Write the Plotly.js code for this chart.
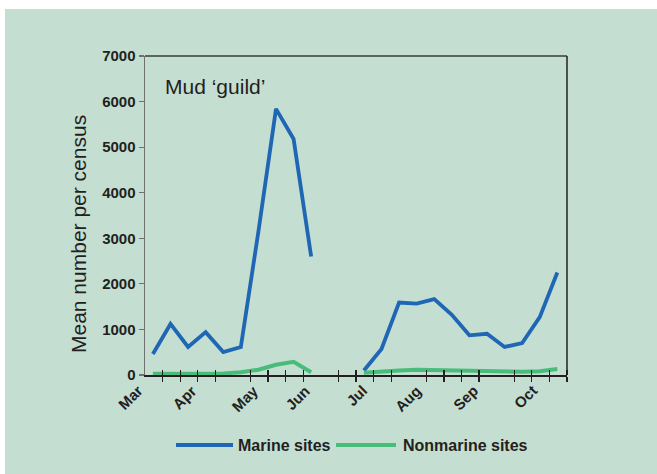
<!DOCTYPE html>
<html>
<head>
<meta charset="utf-8">
<script src="https://cdn.plot.ly/plotly-3.0.1.min.js"></script>
<style>
  html, body { margin: 0; padding: 0; background: #ffffff; }
  #chart { position: absolute; left: 5px; top: 9px; width: 652px; height: 465px; }
</style>
</head>
<body>
<div id="chart"></div>
<script>
// ---- Data (24 ten-day census periods, March to October) ----
const periods = ["Mar-1","Mar-2","Mar-3","Apr-1","Apr-2","Apr-3","May-1","May-2","May-3",
                 "Jun-1","Jun-2","Jun-3","Jul-1","Jul-2","Jul-3","Aug-1","Aug-2","Aug-3",
                 "Sep-1","Sep-2","Sep-3","Oct-1","Oct-2","Oct-3"];
const marineSites    = [460, 1120, 615, 940, 505, 615, 3150, 5840, 5180, 2600, null, null,
                        100, 570, 1590, 1565, 1665, 1320, 870, 905, 615, 700, 1270, 2250];
const nonmarineSites = [30, 30, 30, 30, 35, 60, 115, 225, 290, 60, null, null,
                        50, 85, 100, 115, 105, 95, 85, 75, 60, 70, 85, 130];
const monthLabels = ["Mar","Apr","May","Jun","Jul","Aug","Sep","Oct"];
const monthLabelPos = [0.2, 3.25, 6.79, 9.73, 12.99, 16.04, 19.31, 22.66];
const yTicks = [0, 1000, 2000, 3000, 4000, 5000, 6000, 7000];

// ---- Styling ----
const BG = "#c4ded1", BLUE = "#1f66b5", GREEN = "#48bd7b", INK = "#231f20";
const FONT = "Liberation Sans, Arial, sans-serif";
const W = 652, H = 465, ML = 140, MR = 90, MT = 47, MB = 99;
const PW = W - ML - MR, PH = H - MT - MB;
const XMAX = 24;
// page pixel -> paper coords (div is offset 5,9 in page)
const px = x => (x - 5 - ML) / PW;
const py = y => 1 - (y - 9 - MT) / PH;

const xs = periods.map((p, i) => i + 0.45);

const traces = [
  { x: xs, y: marineSites, name: "Marine sites", type: "scatter", mode: "lines",
    line: { color: BLUE, width: 3.8 }, connectgaps: false, hoverinfo: "x+y" },
  { x: xs, y: nonmarineSites, name: "Nonmarine sites", type: "scatter", mode: "lines",
    line: { color: GREEN, width: 4 }, connectgaps: false, hoverinfo: "x+y" },
  { x: [], y: [], xaxis: "x2", yaxis: "y", showlegend: false, hoverinfo: "skip", type: "scatter" }
];

const monthAnnotations = monthLabels.map((m, i) => ({
  text: m, xref: "paper", yref: "paper", x: monthLabelPos[i] / XMAX, y: py(379),
  xanchor: "right", yanchor: "top", textangle: -45, showarrow: false,
  font: { family: FONT, size: 15, color: INK, weight: "bold" }
}));

const layout = {
  width: W, height: H,
  margin: { l: ML, r: MR, t: MT, b: MB, pad: 0 },
  paper_bgcolor: BG, plot_bgcolor: BG,
  showlegend: false,
  font: { family: FONT, color: INK },
  xaxis: {
    range: [0, XMAX], showgrid: false, zeroline: false,
    showline: true, linecolor: INK, linewidth: 1.5,
    showticklabels: false, ticks: "",
    minor: { tick0: 0, dtick: 1, ticks: "outside", ticklen: 5, tickwidth: 1.2, tickcolor: INK, showgrid: false }
  },
  xaxis2: {
    overlaying: "x", anchor: "y", range: [0, XMAX], showgrid: false, zeroline: false,
    showline: false, showticklabels: false, ticks: "",
    minor: { tick0: 0, dtick: 1, ticks: "inside", ticklen: 5, tickwidth: 1.2, tickcolor: INK, showgrid: false }
  },
  yaxis: {
    range: [0, 7000], showgrid: false, zeroline: false,
    showline: true, linecolor: "#707070", linewidth: 1.5,
    tickmode: "array", tickvals: yTicks,
    ticks: "outside", ticklen: 5, tickwidth: 1.2, tickcolor: "#707070",
    tickfont: { family: FONT, size: 15, color: INK, weight: "bold" }
  },
  shapes: [
    { type: "line", xref: "paper", yref: "paper", x0: 0, x1: 1, y0: 1, y1: 1,
      line: { color: "#3a3a3a", width: 1.5 } },
    { type: "line", xref: "paper", yref: "paper", x0: 1, x1: 1, y0: 0, y1: 1,
      line: { color: INK, width: 1.5 } },
    // custom legend swatches
    { type: "line", xref: "paper", yref: "paper", x0: px(176), x1: px(233), y0: py(445), y1: py(445),
      line: { color: BLUE, width: 4 } },
    { type: "line", xref: "paper", yref: "paper", x0: px(336), x1: px(396), y0: py(445), y1: py(445),
      line: { color: GREEN, width: 4 } }
  ],
  annotations: [
    { text: "Mud \u2018guild\u2019", xref: "paper", yref: "paper", x: px(163), y: py(86),
      xanchor: "left", yanchor: "middle", showarrow: false,
      font: { family: FONT, size: 21, color: INK } },
    { text: "Mean number per census", xref: "paper", yref: "paper", x: px(78), y: py(234),
      xanchor: "center", yanchor: "middle", textangle: -90, showarrow: false,
      font: { family: FONT, size: 21, color: INK } },
    { text: "Marine sites", xref: "paper", yref: "paper", x: px(236), y: py(445),
      xanchor: "left", yanchor: "middle", showarrow: false,
      font: { family: FONT, size: 16, color: INK, weight: "bold" } },
    { text: "Nonmarine sites", xref: "paper", yref: "paper", x: px(401), y: py(445),
      xanchor: "left", yanchor: "middle", showarrow: false,
      font: { family: FONT, size: 16, color: INK, weight: "bold" } }
  ].concat(monthAnnotations)
};

Plotly.newPlot("chart", traces, layout, { displayModeBar: false, staticPlot: true });
</script>
</body>
</html>
